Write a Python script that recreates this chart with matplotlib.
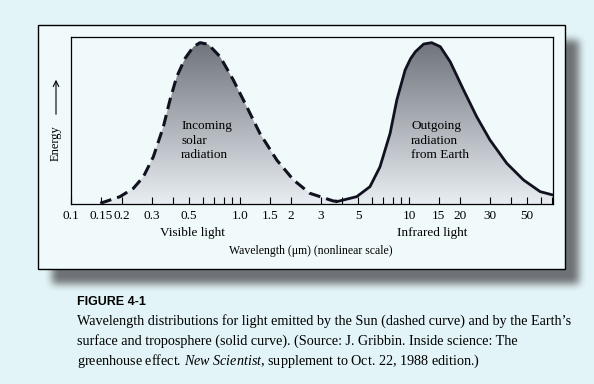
import numpy as np
import matplotlib
matplotlib.use("Agg")
import matplotlib.pyplot as plt
from matplotlib.patches import Rectangle, Polygon
from matplotlib.colors import LinearSegmentedColormap
from matplotlib.ticker import FixedLocator, FixedFormatter, NullFormatter

plt.rcParams['font.family'] = ['Liberation Serif', 'DejaVu Serif']
plt.rcParams['mathtext.fontset'] = 'custom'
plt.rcParams['mathtext.rm'] = 'Liberation Serif'
plt.rcParams['mathtext.it'] = 'Liberation Serif:italic'

# incoming solar radiation (dashed curve): wavelength in µm, energy as fraction of frame height
sun_wl = [0.149, 0.195, 0.234, 0.268, 0.307, 0.352, 0.385, 0.422, 0.473, 0.53, 0.58,
          0.649, 0.762, 0.912, 1.095, 1.31, 1.65, 2.07, 2.59, 3.56, 4.08]
sun_energy = [0.004, 0.044, 0.094, 0.163, 0.283, 0.463, 0.623, 0.762, 0.872, 0.942, 0.966,
              0.956, 0.882, 0.743, 0.583, 0.423, 0.263, 0.144, 0.064, 0.018, 0.014]

# outgoing radiation from Earth (solid curve)
earth_wl = [3.73, 4.9, 5.87, 6.73, 7.72, 8.46, 9.47, 10.2, 10.9, 12.2, 13.6, 15.3, 17.5,
            21, 25.1, 30.1, 37.8, 47.5, 59.6, 70.8]
earth_energy = [0.014, 0.044, 0.104, 0.223, 0.423, 0.623, 0.802, 0.87, 0.912, 0.958, 0.966,
                0.942, 0.852, 0.683, 0.523, 0.383, 0.244, 0.144, 0.074, 0.054]

tick_vals = [0.1, 0.15, 0.2, 0.3, 0.5, 1.0, 1.5, 2, 3, 5, 10, 15, 20, 30, 50]
tick_labels = ["0.1", "0.15", "0.2", "0.3", "0.5", "1.0", "1.5", "2", "3", "5",
               "10", "15", "20", "30", "50"]
minor_vals = [0.4, 0.6, 0.7, 0.8, 0.9, 4, 6, 7, 8, 9, 40, 60, 70]

W, H = 594, 384
fig = plt.figure(figsize=(W / 100, H / 100), dpi=100)

# page background + blurred drop shadow behind the white panel
page = np.ones((H, W, 3)) * np.array([0.89, 0.96, 0.97])
mask = np.zeros((H, W))
mask[40:284, 52:579] = 1.0
k = np.ones(9) / 9
for _ in range(2):
    mask = np.apply_along_axis(lambda r: np.convolve(r, k, mode="same"), 1, mask)
    mask = np.apply_along_axis(lambda c: np.convolve(c, k, mode="same"), 0, mask)
a = (0.8 * mask)[:, :, None]
page = page * (1 - a) + np.array([0.32, 0.32, 0.34]) * a

bg = fig.add_axes([0, 0, 1, 1])
bg.imshow(page, aspect="auto", extent=(0, W, H, 0), zorder=0)
bg.set_xlim(0, W)
bg.set_ylim(H, 0)
bg.axis("off")
bg.add_patch(Rectangle((38, 25), 527, 244, facecolor=(0.94, 0.98, 0.985),
                       edgecolor="black", lw=1.0, zorder=1))

# chart frame
ax = fig.add_axes([71 / W, 1 - 204 / H, (553 - 71) / W, (204 - 37) / H])
ax.patch.set_alpha(0)
ax.set_xscale("log")
ax.set_xlim(0.1, 71)
ax.set_ylim(0, 1)
ax.set_yticks([])

cmap = LinearSegmentedColormap.from_list("shade", [(0.91, 0.93, 0.95), (0.42, 0.44, 0.47)])
grad = np.linspace(1, 0, 256).reshape(-1, 1)
for wl, en in [(sun_wl, sun_energy), (earth_wl, earth_energy)]:
    verts = np.column_stack([wl + [wl[-1], wl[0]], en + [0, 0]])
    poly = Polygon(verts, closed=True, facecolor="none", edgecolor="none",
                   transform=ax.transData)
    ax.add_patch(poly)
    im = ax.imshow(grad, cmap=cmap, aspect="auto", extent=(0.1, 71, 0, 1),
                   vmin=0, vmax=1, zorder=1)
    im.set_clip_path(poly)

ax.plot(sun_wl, sun_energy, color="#11111f", lw=2.2, dashes=(3.8, 2.0),
        solid_joinstyle="round", zorder=3)
ax.plot(earth_wl, earth_energy, color="#11111f", lw=2.0, solid_joinstyle="round", zorder=3)
ax.set_xlim(0.1, 71)
ax.set_ylim(0, 1)

ax.xaxis.set_major_locator(FixedLocator(tick_vals))
ax.xaxis.set_major_formatter(FixedFormatter(tick_labels))
ax.xaxis.set_minor_locator(FixedLocator(minor_vals))
ax.xaxis.set_minor_formatter(NullFormatter())
ax.tick_params(axis="x", which="both", direction="in", length=5, width=0.8,
               pad=4, labelsize=9.5, colors="black")
for s in ax.spines.values():
    s.set_linewidth(0.9)

# labels placed in page pixels, drawn above the chart
px = bg.transData
fig.text(181, 120, "Incoming\nsolar\nradiation", fontsize=9.5, va="top", ha="left",
         linespacing=1.3, transform=px)
fig.text(411, 120, "Outgoing\nradiation\nfrom Earth", fontsize=9.5, va="top", ha="left",
         linespacing=1.3, transform=px)
fig.text(56, 143, "Energy", fontsize=9, rotation=90, ha="center", va="center", transform=px)
bg.annotate("", xy=(56, 77), xytext=(56, 117),
            arrowprops=dict(arrowstyle="->", lw=0.8, color="black"), zorder=5)
fig.text(192, 233, "Visible light", fontsize=9.5, ha="center", va="center", transform=px)
fig.text(432, 233, "Infrared light", fontsize=9.5, ha="center", va="center", transform=px)
fig.text(311, 251, "Wavelength (μm) (nonlinear scale)", fontsize=8.5, ha="center",
         va="center", transform=px)

fig.text(77, 302, "FIGURE 4-1", fontsize=9, fontweight="bold",
         family=["Liberation Sans", "DejaVu Sans"], ha="left", va="center", transform=px)
caption = ["Wavelength distributions for light emitted by the Sun (dashed curve) and by the Earth\u2019s",
           "surface and troposphere (solid curve). (Source: J. Gribbin. Inside science: The",
           r"greenhouse effect. $\mathit{New\ Scientist}$, supplement to Oct. 22, 1988 edition.)"]
for i, line in enumerate(caption):
    fig.text(77, 321 + i * 20, line, fontsize=10.2, ha="left", va="center", transform=px)

fig.savefig("out.png", dpi=100)
